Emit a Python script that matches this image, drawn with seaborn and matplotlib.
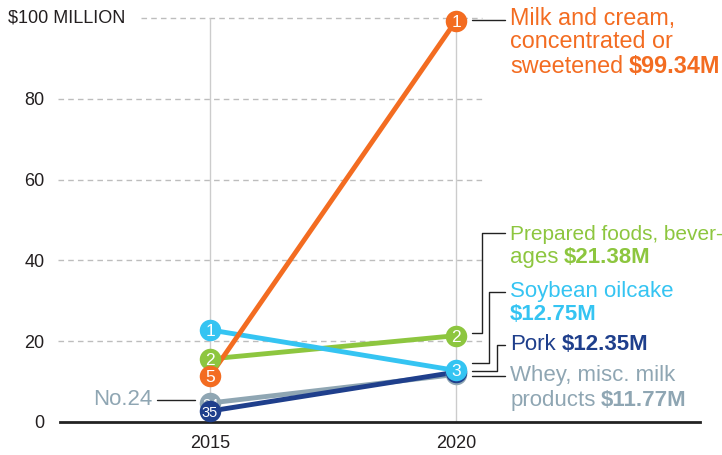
import numpy as np
import pandas as pd
import matplotlib.pyplot as plt
import seaborn as sns

# data, drawn in this order (last on top)
products = ["Whey, misc. milk products", "Pork", "Prepared foods, beverages",
            "Soybean oilcake", "Milk and cream, concentrated or sweetened"]
years = [2015, 2020]
values_2015 = [4.7, 2.7, 15.6, 22.8, 11.4]
values_2020 = [11.77, 12.35, 21.38, 12.75, 99.34]
rank_2015 = ["24", "35", "2", "1", "5"]
rank_2020 = ["", "", "2", "3", "1"]   # whey/pork are hidden under marker 3
colors = ["#8fa6b3", "#1f3f8c", "#8dc63f", "#35c4f2", "#f36c21"]

rows = []
for i, p in enumerate(products):
    rows.append((p, years[0], values_2015[i], rank_2015[i]))
    rows.append((p, years[1], values_2020[i], rank_2020[i]))
df = pd.DataFrame(rows, columns=["product", "year", "value", "rank"])

sns.set_theme(style="white")
plt.rcParams["font.family"] = ["Liberation Sans", "DejaVu Sans"]

fig, ax = plt.subplots(figsize=(7.22, 4.55), dpi=100)
fig.subplots_adjust(left=60/722, right=700/722, bottom=1-422/455, top=1-18/455)
ax.set_xlim(2011.95, 2024.96)
ax.set_ylim(0, 100)

# grid
for y in [20, 40, 60, 80]:
    ax.plot([2011.9, 2020.53], [y, y], color="#bdbdbd", lw=1, ls=(0, (4, 3)), zorder=0, clip_on=False)
ax.plot([2013.6, 2020.53], [100, 100], color="#bdbdbd", lw=1, ls=(0, (4, 3)), zorder=0, clip_on=False)
ax.vlines(years, 0, 100, color="#cccccc", lw=1, zorder=0)

for s in ["left", "right", "top"]:
    ax.spines[s].set_visible(False)
ax.spines["bottom"].set_color("#222222")
ax.spines["bottom"].set_linewidth(2)

ax.set_yticks([0, 20, 40, 60, 80])
ax.set_xticks(years)
ax.tick_params(axis="y", length=0, pad=11, labelsize=13, labelcolor="#231f20")
ax.tick_params(axis="x", length=0, pad=9, labelsize=13, labelcolor="#231f20")
fig.text(8/722, 1-18/455, "$100 MILLION", ha="left", va="center", fontsize=13, color="#231f20")

sns.lineplot(data=df, x="year", y="value", hue="product", hue_order=products,
             palette=colors, lw=3.5, legend=False, ax=ax, zorder=3)

for i, p in enumerate(products):
    sub = df[df["product"] == p]
    sns.scatterplot(data=sub, x="year", y="value", color=colors[i], s=240, linewidth=0,
                    legend=False, ax=ax, zorder=5 + 2*i, clip_on=False)
    for _, r in sub.iterrows():
        if r["rank"]:
            ax.text(r["year"], r["value"], r["rank"], color="white", ha="center",
                    va="center_baseline", fontsize=12.5 if len(r["rank"]) == 1 else 10.5,
                    zorder=6 + 2*i)
ax.set_xlabel("")
ax.set_ylabel("")

# right-hand labels
lx = 2021.1


def label(y, normal, bold, color, fs=16):
    if normal:
        t = ax.text(lx, y, normal, color=color, fontsize=fs, ha="left", va="center", clip_on=False)
        if bold:
            ax.annotate(bold, xy=(1, 0), xycoords=t, xytext=(4, 0), textcoords="offset points",
                        color=color, fontsize=fs, fontweight="bold", ha="left", va="bottom")
    else:
        ax.text(lx, y, bold, color=color, fontsize=fs, fontweight="bold", ha="left", va="center")


def money(v):
    return "$%.2fM" % v


label(100, "Milk and cream,", None, colors[4], 16.8)
label(94.06, "concentrated or", None, colors[4], 16.8)
label(88.1, "sweetened", money(values_2020[4]), colors[4], 16.8)
label(46.3, "Prepared foods, bever-", None, colors[2], 15)
label(40.6, "ages", money(values_2020[2]), colors[2])
label(32.2, "Soybean oilcake", None, colors[3])
label(26.5, None, money(values_2020[3]), colors[3])
label(19.1, "Pork", money(values_2020[1]), colors[1])
label(11.6, "Whey, misc. milk", None, colors[0])
label(5.4, "products", money(values_2020[0]), colors[0])

# connectors
kw = dict(color="#222222", lw=1, zorder=2, clip_on=False)
ax.plot([2020.32, 2021.0], [99.6, 99.6], **kw)
ax.plot([2020.32, 2020.53, 2020.53, 2021.0], [22.0, 22.0, 46.8, 46.8], **kw)
ax.plot([2020.32, 2020.67, 2020.67, 2021.0], [14.6, 14.6, 32.2, 32.2], **kw)
ax.plot([2020.32, 2020.83, 2020.83, 2021.0], [12.6, 12.6, 19.1, 19.1], **kw)
ax.plot([2020.32, 2021.0], [11.4, 11.4], **kw)

# No.24 note
ax.text(2013.82, 5.45, "No.24", color=colors[0], fontsize=16, ha="right", va="center")
ax.plot([2013.92, 2014.69], [5.45, 5.45], **kw)

plt.savefig("out.png", dpi=100)
